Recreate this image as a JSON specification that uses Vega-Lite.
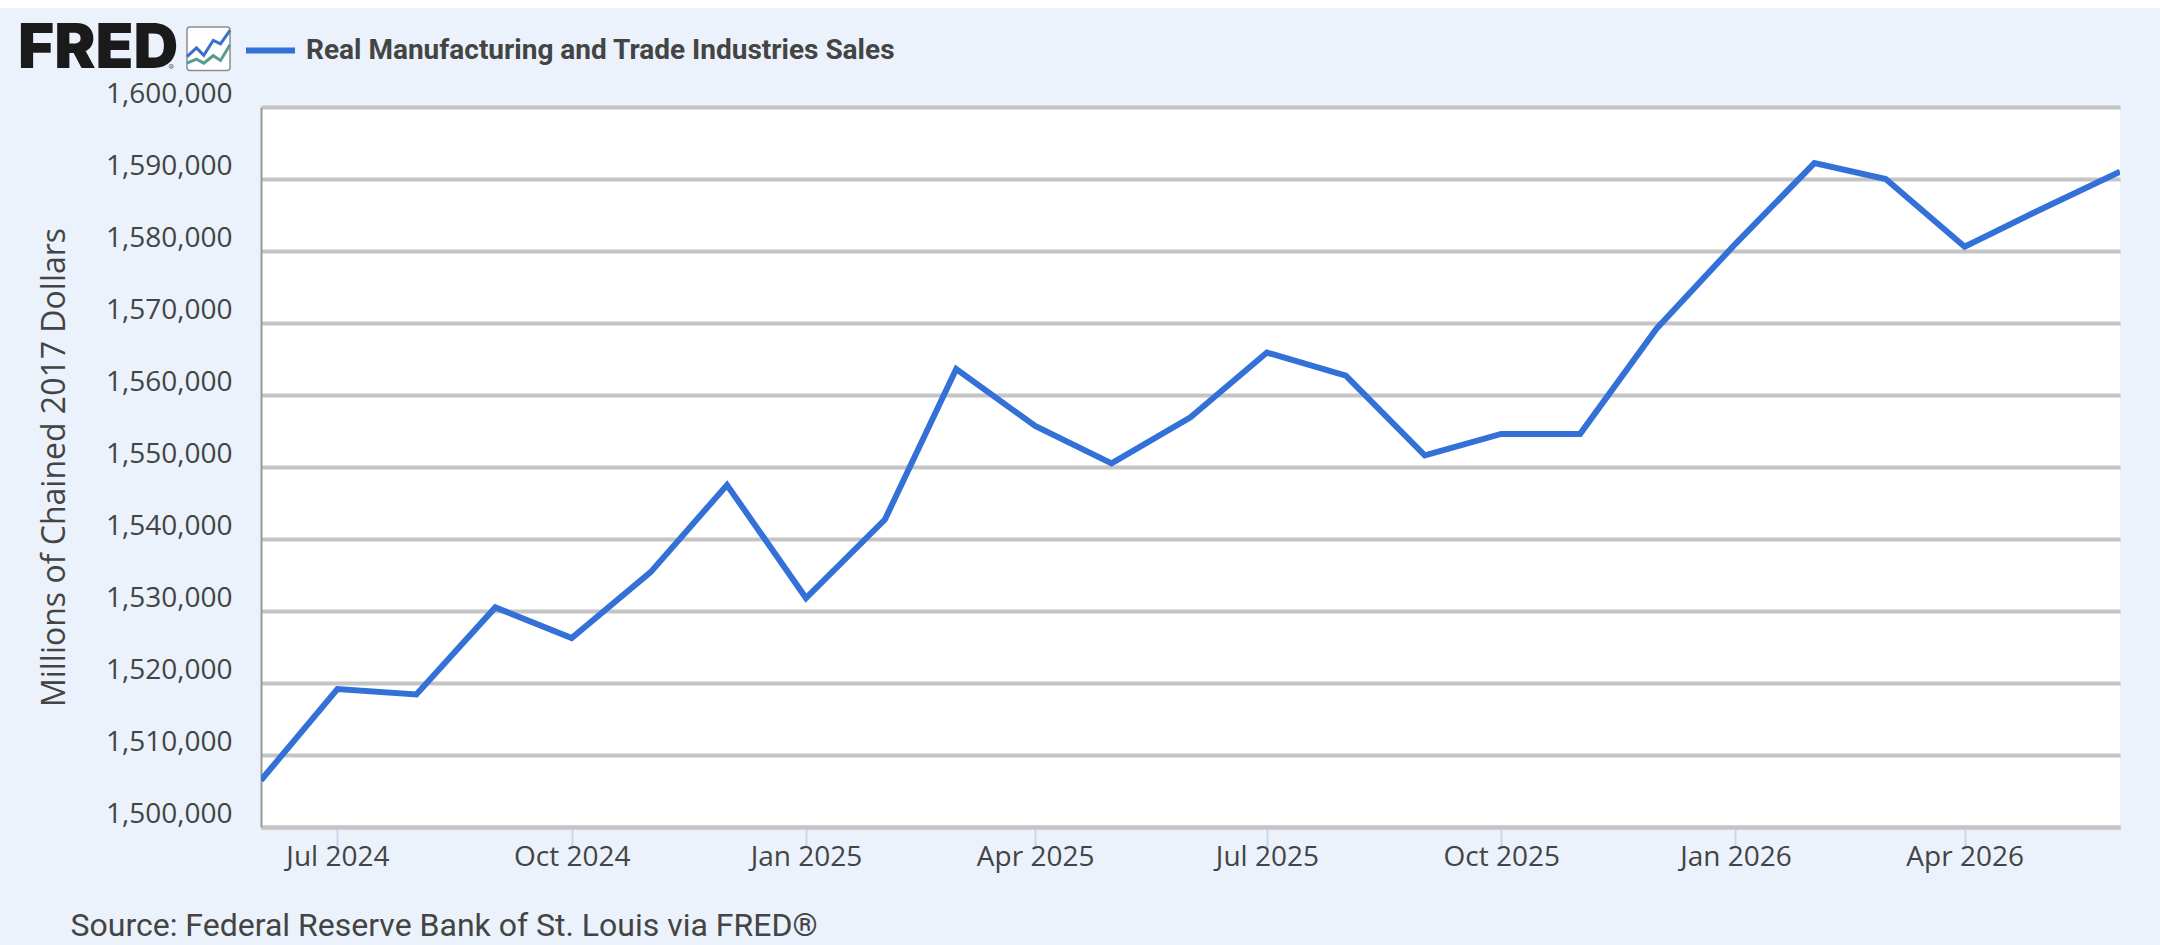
{
  "$schema": "https://vega.github.io/schema/vega-lite/v6.json",
  "width": 1859,
  "height": 720,
  "autosize": "none",
  "padding": {"left": 261, "top": 107, "right": 40, "bottom": 118},
  "background": "#ebf2fb",
  "title": {
    "text": "FRED",
    "frame": "group",
    "anchor": "start",
    "font": "Inter",
    "fontWeight": 900,
    "fontSize": 62,
    "color": "#1a1a1a",
    "baseline": "alphabetic",
    "dx": -243,
    "dy": 130,
    "offset": 0
  },
  "datasets": {
    "sales": [
      {"date": "2024-06-01", "value": 1506500, "series": "Real Manufacturing and Trade Industries Sales"},
      {"date": "2024-07-01", "value": 1519150, "series": "Real Manufacturing and Trade Industries Sales"},
      {"date": "2024-08-01", "value": 1518400, "series": "Real Manufacturing and Trade Industries Sales"},
      {"date": "2024-09-01", "value": 1530500, "series": "Real Manufacturing and Trade Industries Sales"},
      {"date": "2024-10-01", "value": 1526250, "series": "Real Manufacturing and Trade Industries Sales"},
      {"date": "2024-11-01", "value": 1535400, "series": "Real Manufacturing and Trade Industries Sales"},
      {"date": "2024-12-01", "value": 1547500, "series": "Real Manufacturing and Trade Industries Sales"},
      {"date": "2025-01-01", "value": 1531800, "series": "Real Manufacturing and Trade Industries Sales"},
      {"date": "2025-02-01", "value": 1542700, "series": "Real Manufacturing and Trade Industries Sales"},
      {"date": "2025-03-01", "value": 1563600, "series": "Real Manufacturing and Trade Industries Sales"},
      {"date": "2025-04-01", "value": 1555700, "series": "Real Manufacturing and Trade Industries Sales"},
      {"date": "2025-05-01", "value": 1550500, "series": "Real Manufacturing and Trade Industries Sales"},
      {"date": "2025-06-01", "value": 1556900, "series": "Real Manufacturing and Trade Industries Sales"},
      {"date": "2025-07-01", "value": 1565900, "series": "Real Manufacturing and Trade Industries Sales"},
      {"date": "2025-08-01", "value": 1562700, "series": "Real Manufacturing and Trade Industries Sales"},
      {"date": "2025-09-01", "value": 1551600, "series": "Real Manufacturing and Trade Industries Sales"},
      {"date": "2025-10-01", "value": 1554600, "series": "Real Manufacturing and Trade Industries Sales"},
      {"date": "2025-11-01", "value": 1554600, "series": "Real Manufacturing and Trade Industries Sales"},
      {"date": "2025-12-01", "value": 1569200, "series": "Real Manufacturing and Trade Industries Sales"},
      {"date": "2026-01-01", "value": 1581000, "series": "Real Manufacturing and Trade Industries Sales"},
      {"date": "2026-02-01", "value": 1592200, "series": "Real Manufacturing and Trade Industries Sales"},
      {"date": "2026-03-01", "value": 1590000, "series": "Real Manufacturing and Trade Industries Sales"},
      {"date": "2026-04-01", "value": 1580600, "series": "Real Manufacturing and Trade Industries Sales"},
      {"date": "2026-05-01", "value": 1585800, "series": "Real Manufacturing and Trade Industries Sales"},
      {"date": "2026-06-01", "value": 1591000, "series": "Real Manufacturing and Trade Industries Sales"}
    ],
    "icon": [
      {"line": "blue", "step": 0, "u": 0, "v": 32},
      {"line": "blue", "step": 1, "u": 22, "v": 52},
      {"line": "blue", "step": 2, "u": 39, "v": 35},
      {"line": "blue", "step": 3, "u": 61, "v": 69},
      {"line": "blue", "step": 4, "u": 78, "v": 61},
      {"line": "blue", "step": 5, "u": 100, "v": 92},
      {"line": "green", "step": 0, "u": 0, "v": 17},
      {"line": "green", "step": 1, "u": 22, "v": 26},
      {"line": "green", "step": 2, "u": 39, "v": 17},
      {"line": "green", "step": 3, "u": 61, "v": 34},
      {"line": "green", "step": 4, "u": 78, "v": 23},
      {"line": "green", "step": 5, "u": 100, "v": 59}
    ]
  },
  "layer": [
    {
      "data": {"name": "sales"},
      "mark": {"type": "line", "strokeWidth": 6, "clip": true, "strokeJoin": "miter"},
      "encoding": {
        "x": {
          "field": "date",
          "type": "temporal",
          "scale": {"domain": ["2024-06-01", "2026-06-01"]},
          "axis": {
            "values": ["2024-07-01", "2024-10-01", "2025-01-01", "2025-04-01", "2025-07-01", "2025-10-01", "2026-01-01", "2026-04-01"],
            "format": "%b %Y",
            "labelFont": "Open Sans",
            "labelFontSize": 28,
            "labelColor": "#444444",
            "labelPadding": -4,
            "tickColor": "#ccd6eb",
            "tickWidth": 2,
            "tickSize": 20,
            "domainColor": "#c4c4c4",
            "domainWidth": 4,
            "grid": false,
            "title": "Source: Federal Reserve Bank of St. Louis via FRED®",
            "titleFont": "Roboto",
            "titleFontWeight": "normal",
            "titleFontSize": 32,
            "titleColor": "#444444",
            "titleAlign": "left",
            "titleAnchor": "start",
            "titleBaseline": "alphabetic",
            "titleX": -191,
            "titleY": 108
          }
        },
        "y": {
          "field": "value",
          "type": "quantitative",
          "scale": {"domain": [1500000, 1600000], "nice": false, "zero": false},
          "axis": {
            "values": [1500000, 1510000, 1520000, 1530000, 1540000, 1550000, 1560000, 1570000, 1580000, 1590000, 1600000],
            "format": ",.0f",
            "labelFont": "Open Sans",
            "labelFontSize": 28,
            "labelColor": "#444444",
            "labelOffset": -13,
            "labelPadding": 29,
            "ticks": false,
            "tickSize": 0,
            "domainColor": "#999999",
            "domainWidth": 2,
            "grid": true,
            "gridColor": "#c4c4c4",
            "gridWidth": 4,
            "gridOpacity": 1,
            "title": "Millions of Chained 2017 Dollars",
            "titleFont": "Open Sans",
            "titleFontWeight": "normal",
            "titleFontSize": 32,
            "titleColor": "#444444",
            "titleX": -190,
            "titleY": 360
          }
        },
        "color": {
          "field": "series",
          "type": "nominal",
          "scale": {"range": ["#3370d8"]},
          "legend": {
            "orient": "none",
            "legendX": -18,
            "legendY": -84,
            "title": null,
            "symbolType": "stroke",
            "symbolSize": 2400,
            "symbolStrokeWidth": 6,
            "labelFont": "Roboto",
            "labelFontWeight": "bold",
            "labelFontSize": 28,
            "labelColor": "#444444",
            "labelLimit": 800,
            "labelOffset": 8
          }
        }
      }
    },
    {
      "data": {"name": "icon"},
      "encoding": {
        "x": {"field": "u", "type": "quantitative", "axis": null, "scale": {"domain": [0, 100], "range": [-74, -31]}},
        "y": {"field": "v", "type": "quantitative", "axis": null, "scale": {"domain": [0, 100], "range": [-36.5, -80]}}
      },
      "layer": [
        {
          "data": {"values": [{"u": 0, "u2": 100, "v": 0, "v2": 100}]},
          "mark": {"type": "rect", "fill": "#ffffff", "stroke": "#8a9090", "strokeWidth": 1.5, "cornerRadius": 3},
          "encoding": {"x2": {"field": "u2"}, "y2": {"field": "v2"}}
        },
        {
          "mark": {"type": "line", "strokeWidth": 3},
          "encoding": {
            "order": {"field": "step", "type": "quantitative"},
            "detail": {"field": "line", "type": "nominal"},
            "stroke": {
              "field": "line",
              "type": "nominal",
              "legend": null,
              "scale": {"domain": ["blue", "green"], "range": ["#3b6fc9", "#5a9a90"]}
            }
          }
        },
        {
          "data": {"values": [{"u": -37, "v": 1, "mark": "®"}]},
          "mark": {"type": "text", "font": "Inter", "fontSize": 8, "color": "#555555", "baseline": "alphabetic"},
          "encoding": {"text": {"field": "mark", "type": "nominal"}}
        }
      ]
    },
    {
      "data": {"values": [{"u": 0, "u2": 1, "v": 0, "v2": 1}]},
      "mark": {"type": "rect", "fill": "#ffffff"},
      "encoding": {
        "x": {"field": "u", "type": "quantitative", "axis": null, "scale": {"domain": [0, 1], "range": [-261, 1899]}},
        "x2": {"field": "u2"},
        "y": {"field": "v", "type": "quantitative", "axis": null, "scale": {"domain": [0, 1], "range": [-99, -107]}},
        "y2": {"field": "v2"}
      }
    }
  ],
  "resolve": {"scale": {"x": "independent", "y": "independent", "color": "independent"}, "axis": {"x": "independent", "y": "independent"}},
  "config": {"view": {"fill": "#ffffff", "stroke": null}}
}
